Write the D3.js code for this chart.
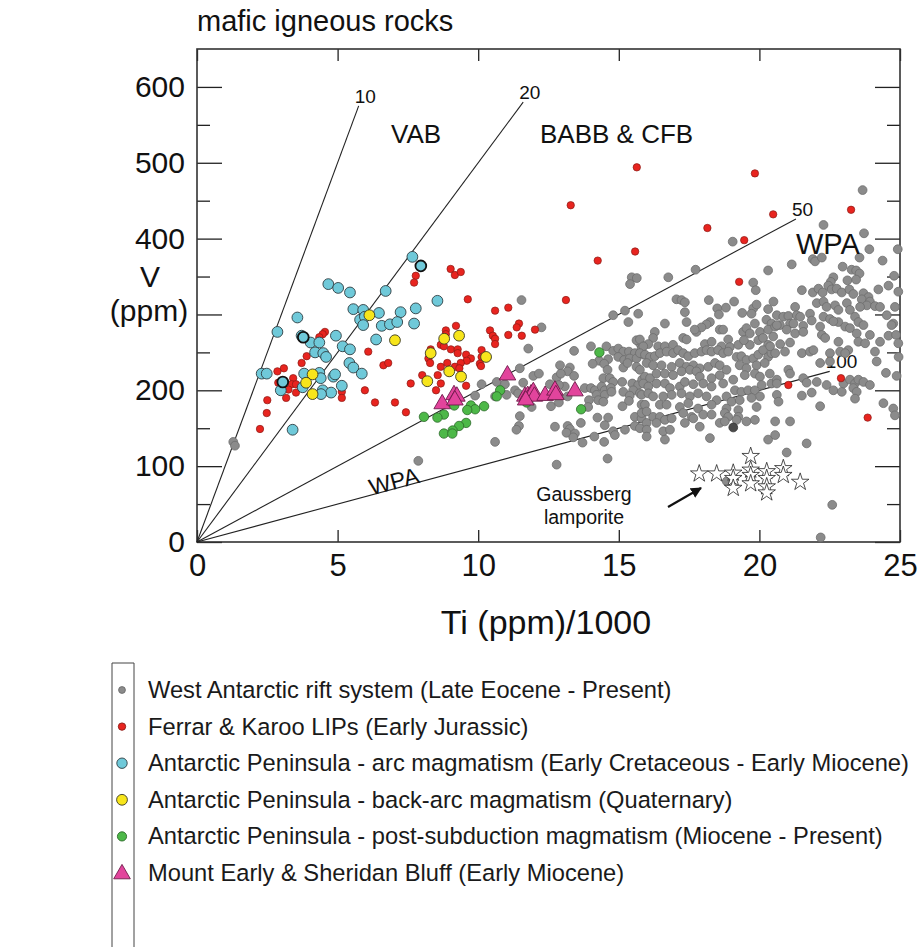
<!DOCTYPE html>
<html>
<head>
<meta charset="utf-8">
<script src="https://cdn.jsdelivr.net/npm/d3@7"></script>
<style>
  body { margin: 0; background: #fff; }
  svg { display: block; font-family: "Liberation Sans", Arial, sans-serif; }
</style>
</head>
<body>
<div id="chart"></div>
<script>
////// DATA (Ti ppm/1000, V ppm) //////
// West Antarctic rift system
var riftPts = [
 [1.29,132],[1.35,127],[7.87,107],[10.12,208],[10.66,211],[10.95,208],[9.89,193],[10.60,192],[10.60,132],
 [11.54,319],[12.25,283],[11.78,255],[11.48,229],[13.41,252],[14.01,258],[14.56,258],[14.80,252],[14.98,255],
 [15.16,251],[15.36,251],[15.57,249],[15.75,262],[15.81,255],[15.63,266],[14.30,239],[14.62,241],[14.98,244],
 [15.19,240],[15.39,242],[15.63,242],[15.87,247],[14.07,235],[14.48,235],[14.60,227],[15.16,230],[15.31,236],
 [15.63,231],[12.91,233],[13.26,230],[13.18,225],[11.96,219],[12.16,222],[12.55,208],[12.79,217],[13.41,219],
 [12.94,222],[14.45,216],[14.68,216],[14.80,211],[15.12,211],[15.48,209],[15.69,207],[15.83,214],[13.79,203],
 [14.01,203],[14.15,200],[14.39,205],[14.50,200],[14.72,203],[14.21,194],[14.50,194],[14.74,198],[15.16,198],
 [15.51,200],[15.75,196],[13.08,205],[12.87,207],[11.31,200],[11.42,196],[11.01,194],[11.60,210],[13.94,187],
 [14.27,187],[14.45,185],[15.39,193],[15.36,186],[13.18,192],[12.85,192],[12.59,179],[12.87,184],[11.90,178],
 [13.91,178],[15.13,179],[15.81,181],[15.84,170],[11.48,166],[14.24,164],[14.62,164],[15.57,165],[15.81,163],
 [11.45,153],[11.36,148],[12.73,152],[13.18,153],[13.26,149],[13.14,144],[13.44,143],[13.38,138],[13.65,157],
 [14.50,154],[14.80,146],[14.86,141],[15.22,148],[15.57,153],[15.75,150],[14.13,139],[13.71,131],[14.48,132],
 [12.79,102],[14.60,110],
 [15.46,349],[15.64,348],[15.40,340],[14.80,299],[15.22,305],[15.34,290],[15.69,301],
 [16.76,349],[17.73,359],[20.31,358],[19.78,342],[19.87,332],[17.05,320],[17.23,319],[17.35,316],[18.20,319],
 [18.50,308],[18.81,309],[19.10,317],[18.56,300],[17.35,303],[17.41,290],[16.64,288],[18.24,290],[18.12,287],
 [19.39,302],[19.78,308],[19.72,301],[19.90,313],[20.25,293],[20.43,288],[20.31,307],[16.28,277],[15.75,267],
 [16.22,269],[16.05,261],[15.87,258],[16.40,258],[16.64,258],[16.93,260],[17.29,269],[17.41,267],[17.76,277],
 [17.94,283],[17.70,280],[18.06,261],[18.30,264],[18.59,280],[18.71,280],[18.89,267],[18.65,258],[18.95,257],
 [19.25,260],[19.42,277],[19.54,282],[19.66,275],[19.84,288],[20.02,277],[19.96,266],[20.13,269],[20.31,280],
 [20.49,271],[20.31,260],[19.66,260],[19.45,266],[15.75,249],[15.93,247],[16.11,244],[16.28,245],[16.46,249],
 [16.70,251],[16.93,249],[17.11,253],[17.29,249],[17.47,245],[17.70,249],[17.94,251],[18.12,253],[18.30,251],
 [18.53,253],[18.71,249],[18.89,251],[19.19,244],[19.36,245],[19.54,240],[19.78,242],[19.96,247],[20.13,253],
 [20.31,244],[20.43,249],[15.99,236],[16.22,233],[16.52,233],[16.88,231],[17.17,236],[17.41,231],[17.65,233],
 [17.88,229],[18.18,231],[18.42,236],[18.59,233],[18.83,227],[19.30,233],[19.54,229],[19.90,233],[20.19,236],
 [15.75,227],[15.93,218],[16.11,216],[16.34,222],[16.64,222],[16.93,220],[17.23,225],[17.53,227],[17.76,225],
 [17.88,218],[18.30,216],[18.59,220],[19.07,214],[19.48,220],[19.84,222],[20.02,218],[20.37,222],[15.87,209],
 [16.05,205],[16.34,209],[16.64,209],[16.82,203],[17.17,205],[17.35,211],[17.65,208],[18.00,209],[18.30,205],
 [18.71,209],[19.13,200],[19.36,198],[19.60,200],[19.84,200],[20.08,207],[20.43,209],[20.02,192],[15.81,194],
 [16.05,196],[16.22,192],[16.58,192],[16.88,194],[17.23,196],[17.53,192],[17.82,196],[18.12,192],[18.48,187],
 [18.83,192],[19.01,185],[19.30,187],[19.72,190],[19.90,178],[15.93,181],[16.46,181],[16.70,181],[17.17,178],
 [17.47,183],[17.82,176],[18.30,181],[18.83,176],[19.25,174],[15.81,170],[15.99,172],[16.22,165],[16.46,165],
 [16.64,161],[16.88,163],[17.29,170],[17.59,165],[18.00,168],[18.30,168],[18.77,170],[18.89,165],[19.25,165],
 [19.54,159],[19.84,161],[15.99,157],[16.34,157],[16.58,146],[16.82,148],[17.35,157],[17.65,163],[17.88,152],
 [18.59,157],[18.77,159],[19.19,161],[15.99,148],[15.99,139],[16.64,135],[18.24,137],[20.31,135],[19.05,396],
 [23.67,464],[22.28,418],[23.72,407],[23.91,386],[24.92,386],[23.56,375],[24.38,371],[21.15,366],[21.90,373],
 [21.98,370],[22.22,375],[22.96,363],[23.28,359],[23.44,358],[23.56,354],[23.13,345],[23.44,346],[22.63,349],
 [22.54,343],[24.79,351],[24.59,338],[24.23,333],[21.51,332],[21.90,329],[22.10,334],[22.25,329],[22.45,338],
 [22.57,333],[22.75,334],[22.93,329],[23.20,333],[23.34,327],[23.70,328],[23.88,323],[23.64,320],[23.93,317],
 [23.82,312],[23.58,310],[24.11,311],[24.29,310],[24.94,330],[24.82,310],[24.53,299],[24.76,288],[20.50,317],
 [20.62,299],[20.85,297],[21.03,298],[21.27,310],[21.33,299],[21.45,297],[21.56,285],[21.80,301],[22.04,315],
 [22.28,317],[22.39,310],[22.69,312],[22.81,306],[23.11,315],[23.22,306],[23.40,297],[23.52,290],[22.28,297],
 [22.51,294],[22.81,290],[23.05,284],[21.09,288],[20.56,284],[20.73,286],
 [21.86,292],[21.21,288],[20.62,286],[20.97,280],[21.27,275],[21.56,277],[22.16,284],[22.63,291],[22.22,273],
 [22.34,269],[23.22,282],[23.46,275],[23.70,286],[23.93,273],[23.52,264],[23.76,262],[22.81,264],[23.16,253],
 [22.87,251],[23.05,249],[22.51,249],[22.51,238],[22.16,236],[24.59,272],[24.86,273],[24.29,264],[24.70,286],
 [24.94,262],[24.95,244],[24.50,223],[24.88,219],[24.11,251],[24.17,238],[20.38,258],[20.74,261],[21.09,263],
 [20.56,249],[20.91,251],[21.51,249],[21.80,251],[21.92,253],[21.03,227],[21.09,222],[20.62,214],[20.62,209],
 [21.56,216],[21.68,210],[22.04,211],[22.39,207],[22.63,200],[22.93,198],[22.99,209],[23.22,214],[23.40,209],
 [23.52,214],[23.70,211],[23.34,203],[23.46,198],[23.93,207],[23.40,189],[21.86,197],[21.51,193],[20.62,194],
 [20.68,185],[22.16,179],[24.41,183],[24.76,176],[24.82,167],[20.56,159],[21.09,159],[20.56,141],[21.68,130],
 [20.97,118],[22.18,6],[22.59,49],[18.84,80]
];
var riftDark = [[19.07,151]];

// Ferrar & Karoo LIPs
var ferrarPts = [
 [4.55,277],[4.47,274],[4.35,270],[3.90,245],[3.72,236],[3.09,229],[2.86,225],[3.42,216],[3.37,208],[3.52,208],
 [3.25,201],[3.52,197],[2.89,210],[3.17,190],[2.50,187],[2.48,170],[2.24,149],[5.15,198],[5.15,190],[5.97,200],
 [6.09,251],[9.02,360],[9.17,352],[9.38,356],[7.78,351],[7.72,342],[9.63,320],[10.60,305],[11.07,309],[11.45,288],
 [11.37,283],[12.02,280],[10.42,279],[10.52,272],[10.60,268],[10.60,261],[11.07,273],[11.55,272],[8.85,279],
 [8.85,274],[9.21,285],[8.67,260],[8.78,258],[9.03,254],[9.27,254],[9.27,249],[8.31,254],[8.23,242],[8.29,236],
 [8.67,231],[8.90,236],[9.57,247],[9.74,242],[9.59,239],[9.38,236],[9.17,231],[9.33,229],[10.12,253],[10.12,244],
 [10.06,235],[10.10,232],[8.56,220],[8.67,209],[8.50,200],[8.01,220],[9.57,206],[7.60,209],[6.63,233],[6.80,236],
 [6.33,184],[7.04,184],[7.43,171],[15.64,494],[13.29,444],[15.58,383],[14.25,371],[13.12,319],[19.84,486],
 [20.49,432],[23.26,438],[18.15,414],[19.46,398],[19.28,343],[21.03,207],[22.90,216],[23.85,164]
];

// Antarctic Peninsula - arc magmatism
var arcPts = [
 [4.67,340],[5.02,335],[5.44,329],[5.56,307],[5.91,306],[5.80,293],[5.97,297],[5.91,286],[3.57,296],[2.86,277],
 [3.72,272],[4.04,263],[4.35,263],[4.94,272],[4.20,250],[4.49,249],[4.59,244],[5.18,258],[5.44,254],[5.42,236],
 [5.56,230],[5.86,222],[2.30,222],[2.48,222],[3.81,222],[4.35,223],[4.40,216],[4.85,218],[4.91,221],[5.15,206],
 [2.98,200],[4.47,200],[4.77,197],[4.41,195],[3.76,204],[3.40,148],[7.66,376],[8.55,318],[6.71,331],[6.47,302],
 [7.24,303],[7.78,308],[6.57,285],[6.86,287],[7.12,290],[7.72,288],[6.37,267]
];
// arc samples drawn with a heavier outline
var arcRing = [[3.78,270],[3.05,211],[7.96,364]];

// Antarctic Peninsula - back-arc magmatism
var backArcPts = [
 [4.11,221],[3.88,210],[4.11,195],[6.13,299],[7.04,266],[8.79,268],[9.32,272],[8.31,249],[10.28,244],[8.97,225],
 [9.39,218],[8.19,212]
];

// Antarctic Peninsula - post-subduction magmatism
var postSubPts = [
 [10.78,200],[10.66,192],[10.21,179],[9.74,180],[9.89,175],[9.61,174],[9.15,180],[8.78,168],[8.55,164],[8.07,165],
 [9.57,157],[9.32,153],[9.09,147],[8.78,143],[9.08,143],[11.72,184],[14.31,250],[13.66,175]
];

// Mount Early & Sheridan Bluff
var earlyPts = [
 [11.04,220],[8.72,182],[9.14,194],[9.24,192],[9.17,187],[11.66,192],[11.76,193],[11.88,195],[11.96,198],[12.00,192],
 [11.69,187],[12.38,193],[12.73,200],[12.76,194],[13.44,199]
];

// Gaussberg lamproite
var gaussPts = [
 [17.86,90],[18.48,90],[19.07,91],[19.07,84],[19.07,71],[19.69,113],[19.69,95],[19.69,88],[19.69,77],[20.26,93],
 [20.26,84],[20.26,73],[20.26,65],[20.85,97],[20.85,88],[21.45,79]
];

// Ti/V ratio lines and the Ti where each is stopped
var ratios = [10, 20, 50, 100];
var ratioEndTi = [5.75, 11.6, 21.3, 22.5];

var legendLabels = [
 "West Antarctic rift system (Late Eocene - Present)",
 "Ferrar & Karoo LIPs (Early Jurassic)",
 "Antarctic Peninsula - arc magmatism (Early Cretaceous - Early Miocene)",
 "Antarctic Peninsula - back-arc magmatism (Quaternary)",
 "Antarctic Peninsula - post-subduction magmatism (Miocene - Present)",
 "Mount Early & Sheridan Bluff (Early Miocene)"
];

var xTicks = [0, 5, 10, 15, 20, 25];
var yTicks = [0, 100, 200, 300, 400, 500, 600];
var yLabelled = [0, 100, 200, 400, 500, 600]; // 300 sits under the axis title
var yMinor = [50, 150, 250, 350, 450, 550];
///////////////////////

var w = 922, h = 947;
var svg = d3.select("#chart").append("svg").attr("width", w).attr("height", h);

var x = d3.scaleLinear().domain([0, 25]).range([197, 900]);
var y = d3.scaleLinear().domain([0, 650]).range([542, 49]);

var ink = "#222";

// axes (ticks point inward)
function cleanAxis(g) {
	g.select(".domain").remove();
	g.selectAll(".tick line").attr("stroke", ink).attr("stroke-width", 1.3);
	g.selectAll("text").attr("fill", "#111").attr("font-family", "Liberation Sans, Arial, sans-serif");
}

svg.append("g").attr("transform", "translate(" + x(0) + ",0)")
	.call(d3.axisLeft(y).tickValues(yTicks).tickSize(-25).tickFormat(""))
	.call(cleanAxis);
svg.append("g").attr("transform", "translate(" + x(0) + ",0)")
	.call(d3.axisLeft(y).tickValues(yLabelled).tickSize(0).tickPadding(12).tickFormat(d3.format("d")))
	.call(cleanAxis)
	.selectAll("text").attr("font-size", 30);
svg.append("g").attr("transform", "translate(" + x(0) + ",0)")
	.call(d3.axisLeft(y).tickValues(yMinor).tickSize(-13).tickFormat(""))
	.call(cleanAxis);
svg.append("g").attr("transform", "translate(" + x(25) + ",0)")
	.call(d3.axisRight(y).tickValues(yTicks).tickSize(-25).tickFormat(""))
	.call(cleanAxis);
svg.append("g").attr("transform", "translate(" + x(25) + ",0)")
	.call(d3.axisRight(y).tickValues(yMinor).tickSize(-13).tickFormat(""))
	.call(cleanAxis);
svg.append("g").attr("transform", "translate(0," + y(0) + ")")
	.call(d3.axisBottom(x).tickValues(xTicks).tickSize(-12).tickPadding(12).tickFormat(d3.format("d")))
	.call(cleanAxis)
	.selectAll("text").attr("font-size", 31);
svg.append("g").attr("transform", "translate(0," + y(650) + ")")
	.call(d3.axisTop(x).tickValues(xTicks).tickSize(-12).tickFormat(""))
	.call(cleanAxis);

// frame
svg.append("rect")
	.attr("x", x(0)).attr("y", y(650))
	.attr("width", x(25) - x(0)).attr("height", y(0) - y(650))
	.attr("fill", "none").attr("stroke", "#333").attr("stroke-width", 1.6);

// Ti/V ratio lines
svg.selectAll(".ratio")
	.data(ratios)
	.enter()
	.append("line")
	.attr("class", "ratio")
	.attr("x1", x(0)).attr("y1", y(0))
	.attr("x2", function (d, i) { return x(ratioEndTi[i]); })
	.attr("y2", function (d, i) { return y(ratioEndTi[i] * 1000 / d); })
	.attr("stroke", ink).attr("stroke-width", 1.1);

svg.selectAll(".ratioLabel")
	.data(ratios)
	.enter()
	.append("text")
	.attr("x", function (d, i) { return x(ratioEndTi[i]) - 4; })
	.attr("y", function (d, i) { return y(ratioEndTi[i] * 1000 / d) - 3; })
	.attr("font-size", 19)
	.attr("fill", "#111")
	.text(function (d) { return d; });

// points
var gsym = svg.append("g");

function dots(data, r, fill, stroke, sw) {
	gsym.append("g").selectAll("circle")
		.data(data)
		.enter()
		.append("circle")
		.attr("cx", function (d) { return x(d[0]); })
		.attr("cy", function (d) { return y(d[1]); })
		.attr("r", r)
		.attr("fill", fill)
		.attr("stroke", stroke)
		.attr("stroke-width", sw);
}

dots(riftPts, 4.4, "#8b8b8b", "#6d6d6d", 0.8);
dots(riftDark, 4.4, "#4a4a4a", "#333", 0.8);
dots(ferrarPts, 3.7, "#e8241f", "#8a1a14", 0.7);
dots(arcPts, 5.4, "#6fc9d9", "#2f3d42", 0.9);
dots(arcRing, 5.4, "#6fc9d9", "#111", 1.8);
dots(backArcPts, 5.4, "#f7e51b", "#3b3a20", 0.9);
dots(postSubPts, 4.7, "#4db848", "#2c6a2a", 0.8);

var tri = d3.symbol().type(d3.symbolTriangle).size(120);
gsym.append("g").selectAll("path")
	.data(earlyPts)
	.enter()
	.append("path")
	.attr("d", tri)
	.attr("transform", function (d) { return "translate(" + x(d[0]) + "," + y(d[1]) + ")"; })
	.attr("fill", "#e2449c")
	.attr("stroke", "#6e1a4a")
	.attr("stroke-width", 0.9);

var star = d3.symbol().type(d3.symbolStar).size(95);
gsym.append("g").selectAll("path")
	.data(gaussPts)
	.enter()
	.append("path")
	.attr("d", star)
	.attr("transform", function (d) { return "translate(" + x(d[0]) + "," + y(d[1]) + ")"; })
	.attr("fill", "#fff")
	.attr("stroke", "#222")
	.attr("stroke-width", 0.8);

// field labels
function label(t, px, py, size, rot) {
	var el = svg.append("text")
		.attr("x", px).attr("y", py)
		.attr("font-size", size)
		.attr("fill", "#111")
		.text(t);
	if (rot) el.attr("transform", "rotate(" + rot + "," + px + "," + py + ")").attr("text-anchor", "middle");
	return el;
}
label("VAB", 391, 143, 26);
label("BABB & CFB", 540, 143, 26);
label("WPA", 796, 254, 29);
label("WPA", 396, 489, 23, -15);
label("Gaussberg", 584, 501, 19.5).attr("text-anchor", "middle");
label("lamporite", 584, 524, 19.5).attr("text-anchor", "middle");

// arrow to the Gaussberg samples
svg.append("defs").append("marker")
	.attr("id", "head").attr("viewBox", "0 0 10 10")
	.attr("refX", 9).attr("refY", 5)
	.attr("markerWidth", 5).attr("markerHeight", 5)
	.attr("orient", "auto")
	.append("path").attr("d", "M0,0 L10,5 L0,10 z").attr("fill", "#111");
svg.append("line")
	.attr("x1", 668).attr("y1", 507).attr("x2", 701).attr("y2", 488)
	.attr("stroke", "#111").attr("stroke-width", 2.2)
	.attr("marker-end", "url(#head)");

// titles
svg.append("text").attr("x", 197).attr("y", 31).attr("font-size", 29).attr("fill", "#111").text("mafic igneous rocks");
svg.append("text").attr("x", 150).attr("y", 287).attr("text-anchor", "middle").attr("font-size", 30).attr("fill", "#111").text("V");
svg.append("text").attr("x", 149).attr("y", 321).attr("text-anchor", "middle").attr("font-size", 30).attr("fill", "#111").text("(ppm)");
svg.append("text").attr("x", 546).attr("y", 634).attr("text-anchor", "middle").attr("font-size", 34).attr("fill", "#111").text("Ti (ppm)/1000");

// legend
var legY = d3.scalePoint().domain(d3.range(legendLabels.length)).range([690, 873]);
var legend = svg.append("g");
legend.append("path")
	.attr("d", "M112,947 V663 H134 V947")
	.attr("fill", "none").attr("stroke", "#444").attr("stroke-width", 1);

var legSym = [
	{ r: 3.4, fill: "#8b8b8b", stroke: "#6d6d6d" },
	{ r: 3.7, fill: "#e8241f", stroke: "#8a1a14" },
	{ r: 5.2, fill: "#6fc9d9", stroke: "#2f3d42" },
	{ r: 5.4, fill: "#f7e51b", stroke: "#3b3a20" },
	{ r: 4.6, fill: "#4db848", stroke: "#2c6a2a" }
];
legend.selectAll("circle")
	.data(legSym)
	.enter()
	.append("circle")
	.attr("cx", 122)
	.attr("cy", function (d, i) { return legY(i); })
	.attr("r", function (d) { return d.r; })
	.attr("fill", function (d) { return d.fill; })
	.attr("stroke", function (d) { return d.stroke; })
	.attr("stroke-width", 0.9);
legend.append("path")
	.attr("d", d3.symbol().type(d3.symbolTriangle).size(120))
	.attr("transform", "translate(122," + (legY(5) + 1) + ")")
	.attr("fill", "#e2449c").attr("stroke", "#6e1a4a").attr("stroke-width", 0.9);

legend.selectAll("text")
	.data(legendLabels)
	.enter()
	.append("text")
	.attr("x", 148)
	.attr("y", function (d, i) { return legY(i) + 8; })
	.attr("font-size", 23.7)
	.attr("fill", "#1a1a1a")
	.text(function (d) { return d; });
</script>
</body>
</html>
